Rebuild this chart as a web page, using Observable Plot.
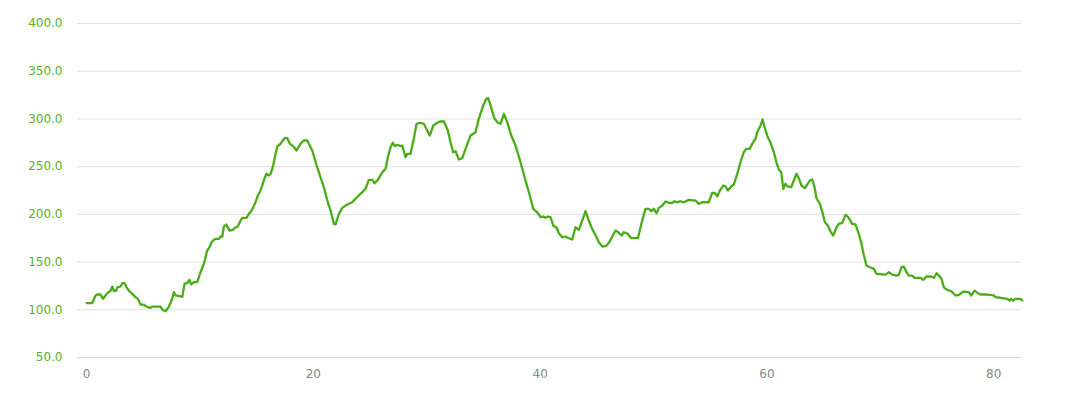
<!DOCTYPE html>
<html>
<head>
<meta charset="utf-8">
<script src="https://cdn.jsdelivr.net/npm/d3@7"></script>
<script src="https://cdn.jsdelivr.net/npm/@observablehq/plot@0.6"></script>
<style>
  html, body { margin: 0; padding: 0; background: #fff; }
  #chart { width: 1078px; height: 399px; }
</style>
</head>
<body>
<div id="chart"></div>
<script>
// Distance (km) along the route
const distance = [
  0, 0.50, 0.79, 0.94, 1.23, 1.44, 1.68, 1.83, 2.12, 2.27, 2.41, 2.62, 2.71, 3.00, 3.15, 3.35, 3.53, 3.73, 4.03, 4.32,
  4.52, 4.76, 5.05, 5.35, 5.64, 5.79, 6.53, 6.68, 6.97, 7.26, 7.56, 7.70, 7.85, 8.29, 8.44, 8.64, 8.88, 9.06, 9.23, 9.46,
  9.76, 10.05, 10.34, 10.64, 10.87, 11.02, 11.23, 11.38, 11.67, 11.82, 11.97, 12.11, 12.32, 12.61, 12.90, 13.08, 13.34, 13.58, 13.73, 14.11,
  14.31, 14.52, 14.70, 14.90, 15.11, 15.28, 15.49, 15.63, 15.85, 16.08, 16.23, 16.46, 16.67, 16.82, 17.11, 17.35, 17.49, 17.70, 17.93, 18.23,
  18.52, 18.87, 19.16, 19.46, 19.90, 20.34, 20.63, 20.93, 21.23, 21.52, 21.67, 21.81, 21.96, 22.25, 22.55, 22.99, 23.43, 23.72, 24.16, 24.60,
  24.89, 25.19, 25.40, 25.69, 26.08, 26.37, 26.57, 26.81, 27.01, 27.19, 27.40, 27.69, 27.84, 28.13, 28.28, 28.57, 28.86, 29.10, 29.45, 29.74,
  30.04, 30.27, 30.57, 30.93, 31.16, 31.51, 31.86, 32.10, 32.33, 32.54, 32.83, 33.13, 33.42, 33.86, 34.30, 34.59, 34.98, 35.25, 35.42, 35.63,
  35.98, 36.27, 36.51, 36.80, 37.10, 37.45, 37.83, 38.27, 38.71, 39.09, 39.39, 39.74, 40.04, 40.27, 40.48, 40.68, 40.92, 41.15, 41.45, 41.65,
  41.95, 42.24, 42.53, 42.83, 43.12, 43.41, 43.71, 44.00, 44.29, 44.59, 44.89, 45.18, 45.48, 45.83, 46.15, 46.45, 46.65, 46.89, 47.18, 47.38,
  47.73, 48.03, 48.62, 49.00, 49.29, 49.59, 49.80, 50.03, 50.26, 50.47, 50.77, 51.06, 51.35, 51.65, 51.85, 52.09, 52.32, 52.67, 53.11, 53.70,
  53.99, 54.29, 54.88, 55.17, 55.38, 55.62, 55.85, 56.15, 56.35, 56.55, 56.85, 57.08, 57.38, 57.73, 57.96, 58.17, 58.49, 58.70, 58.99, 59.14,
  59.44, 59.61, 59.88, 60.08, 60.32, 60.61, 60.85, 61.05, 61.26, 61.44, 61.64, 61.79, 62.14, 62.37, 62.61, 62.81, 63.05, 63.34, 63.55, 63.78,
  63.99, 64.20, 64.37, 64.67, 64.88, 65.11, 65.37, 65.61, 65.85, 66.14, 66.34, 66.64, 66.93, 67.13, 67.37, 67.52, 67.81, 68.10, 68.31, 68.55,
  68.78, 69.07, 69.43, 69.66, 70.46, 70.75, 71.05, 71.43, 71.63, 71.87, 72.07, 72.31, 72.51, 72.81, 73.02, 73.54, 73.78, 74.07, 74.49, 74.72,
  74.96, 75.16, 75.40, 75.60, 75.90, 76.25, 76.63, 76.92, 77.31, 77.81, 78.02, 78.31, 78.60, 78.84, 79.43, 80.01, 80.16, 80.60, 81.19, 81.42,
  81.54, 81.72, 81.92, 82.36, 82.51
];

// Elevation (m)
const elevation = [
  107, 107, 115, 116, 116, 111.5, 115, 117.4, 120, 124.4, 119.5, 120, 123.6, 124.4, 127.9, 128, 123.6, 120, 116.7, 113.3,
  111.5, 105.5, 105.5, 102.7, 102, 103.4, 103.4, 100, 98.5, 103.4, 111.5, 118.5, 115, 114, 113.4, 127.3, 128, 131.4, 126.5, 129,
  129, 139.4, 148, 162, 166.3, 170.8, 173.3, 174.3, 174.3, 176.8, 176.8, 187.3, 189.3, 183, 183.7, 185.9, 187.3, 193.5, 196.4, 196.4,
  200.5, 203.3, 207.5, 212.7, 219.8, 223.3, 230.2, 235.5, 242.5, 240.7, 242.5, 251.2, 263.4, 271.2, 274, 278, 280.2, 279.8, 274, 271.2,
  266.9, 274, 277.4, 277.4, 267, 249.4, 239, 228.4, 214.5, 204, 197, 190, 189.4, 200.5, 206.8, 210.3, 212.7, 216.3, 221.5, 226.8,
  236.2, 236.2, 232.6, 236.2, 244.2, 247.7, 259.9, 270.4, 275, 271.5, 272.9, 271.5, 272.1, 259.9, 263.4, 263.4, 279.2, 294.9, 296, 294.9,
  287.9, 282.6, 293.1, 296, 297.3, 297.3, 287.9, 275.6, 265.1, 266.2, 257.5, 258.9, 268.7, 282.6, 286.1, 300.1, 314.1, 321, 321.7, 314.1,
  300.1, 296, 294.9, 305.4, 296.6, 282.6, 272.1, 254.6, 235.5, 219.8, 205.8, 202.2, 197, 197.7, 196.4, 197.7, 197, 188.3, 185.9, 180.2,
  176, 176.8, 175, 173.6, 186.5, 183.7, 193.5, 203.3, 193.5, 184.8, 177.8, 170.8, 166.3, 167, 171.9, 178.9, 183, 181.3, 177.8, 181.3,
  179.6, 175, 175, 193.5, 205.8, 205.8, 203.3, 205.8, 201.2, 206.8, 209.2, 213.5, 212.1, 212, 213.8, 212.4, 213.8, 212.7, 215.2, 214.5,
  211, 212.7, 212.7, 222.6, 222.6, 219, 225, 230.2, 229.2, 225, 229.2, 231.3, 242.5, 257.2, 265.1, 268.7, 268.7, 273.9, 279.2, 286.1,
  293.1, 299.4, 287.9, 280.8, 275, 265.1, 254, 247, 244.2, 226.8, 232, 229.5, 228.4, 235.5, 242.5, 237.9, 230.2, 227.4, 231, 235.5,
  236.6, 228.4, 216.9, 211, 202.9, 191.8, 188.3, 182, 177.8, 186.5, 190, 191.1, 199.5, 197.7, 193.5, 190, 189.4, 179.6, 170.8, 156.9,
  146.4, 144.6, 142.9, 137.7, 136.9, 139.4, 136.9, 135.9, 136.5, 144.6, 145.3, 139.4, 135.9, 135.9, 133.5, 133.5, 131.4, 134.9, 134.9, 133.5,
  138.3, 135.9, 132.4, 123.6, 120.9, 119.5, 115, 115.5, 119.1, 118.5, 115, 120, 117.4, 116, 116, 115, 113.3, 112.6, 111.5, 109.7,
  111.5, 109.7, 111.5, 111.5, 109.7
];

const xTicks = [0, 20, 40, 60, 80];
const yTicks = [50, 100, 150, 200, 250, 300, 350, 400];

const data = distance.map((d, i) => ({ d, e: elevation[i] }));

const chart = Plot.plot({
  width: 1078,
  height: 399,
  marginLeft: 77,
  marginRight: 57,
  marginTop: 23,
  marginBottom: 42,
  style: { fontFamily: "'DejaVu Sans', sans-serif", fontSize: "12px", background: "#fff", overflow: "visible" },
  x: { domain: [-0.8, 82.45], label: null },
  y: { domain: [50, 400], label: null },
  marks: [
    Plot.gridY(yTicks.filter(t => t > 50), { stroke: "#e0e0e0", strokeOpacity: 1 }),
    Plot.ruleY([50], { stroke: "#ccd6eb" }),
    Plot.axisY(yTicks, { tickSize: 0, tickPadding: 15, tickFormat: d => d.toFixed(1), fill: "#55b322", fontSize: 12, label: null }),
    Plot.axisX(xTicks, { tickSize: 0, tickPadding: 12, fill: "#888", fontSize: 12, label: null }),
    Plot.line(data, { x: "d", y: "e", stroke: "#4aad18", strokeWidth: 2.3, curve: "linear" })
  ]
});
document.getElementById("chart").appendChild(chart);
</script>
</body>
</html>
